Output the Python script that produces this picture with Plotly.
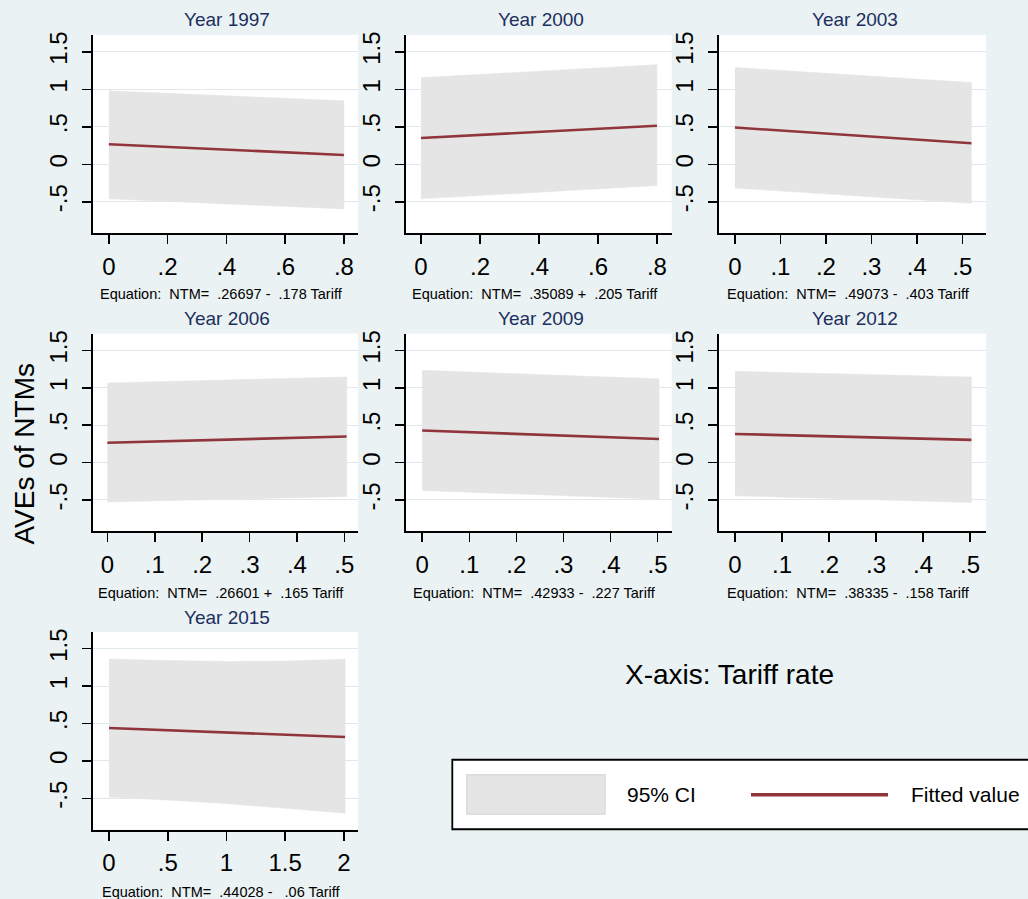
import plotly.graph_objects as go

W, H = 1028, 899

# ---------------- data ----------------
years = ["1997", "2000", "2003", "2006", "2009", "2012", "2015"]

tariff_1997 = [0, 0.4, 0.8]
upper_1997 = [0.979, 0.91, 0.846]
lower_1997 = [-0.46, -0.53, -0.594]
fit_1997 = [0.267, 0.196, 0.125]

tariff_2000 = [0, 0.4, 0.8]
upper_2000 = [1.155, 1.245, 1.328]
lower_2000 = [-0.46, -0.372, -0.283]
fit_2000 = [0.351, 0.433, 0.515]

tariff_2003 = [0, 0.26, 0.52]
upper_2003 = [1.29, 1.19, 1.09]
lower_2003 = [-0.316, -0.42, -0.52]
fit_2003 = [0.491, 0.386, 0.281]

tariff_2006 = [0, 0.25, 0.505]
upper_2006 = [1.065, 1.105, 1.145]
lower_2006 = [-0.528, -0.49, -0.453]
fit_2006 = [0.266, 0.307, 0.349]

tariff_2009 = [0, 0.25, 0.503]
upper_2009 = [1.234, 1.18, 1.12]
lower_2009 = [-0.373, -0.43, -0.489]
fit_2009 = [0.429, 0.373, 0.315]

tariff_2012 = [0, 0.25, 0.503]
upper_2012 = [1.22, 1.182, 1.145]
lower_2012 = [-0.444, -0.49, -0.533]
fit_2012 = [0.383, 0.344, 0.304]

tariff_2015 = [0, 0.4, 1.0, 1.5, 2.01]
upper_2015 = [1.364, 1.345, 1.33, 1.335, 1.36]
lower_2015 = [-0.482, -0.515, -0.57, -0.635, -0.70]
fit_2015 = [0.44, 0.416, 0.38, 0.35, 0.319]

eq_const = [".26697", ".35089", ".49073", ".26601", ".42933", ".38335", ".44028"]
eq_sign = ["-", "+", "-", "+", "-", "-", "-"]
eq_slope = [" .178", " .205", " .403", " .165", " .227", " .158", "  .06"]

xtick_02 = [0, 0.2, 0.4, 0.6, 0.8]
xtick_02_text = ["0", ".2", ".4", ".6", ".8"]
xtick_01 = [0, 0.1, 0.2, 0.3, 0.4, 0.5]
xtick_01_text = ["0", ".1", ".2", ".3", ".4", ".5"]
xtick_05 = [0, 0.5, 1, 1.5, 2]
xtick_05_text = ["0", ".5", "1", "1.5", "2"]
ytick_vals = [-0.5, 0, 0.5, 1, 1.5]
ytick_text = ["-.5", "0", ".5", "1", "1.5"]

panels = [
    (tariff_1997, upper_1997, lower_1997, fit_1997, xtick_02, xtick_02_text, [-0.055, 0.848]),
    (tariff_2000, upper_2000, lower_2000, fit_2000, xtick_02, xtick_02_text, [-0.052, 0.850]),
    (tariff_2003, upper_2003, lower_2003, fit_2003, xtick_01, xtick_01_text, [-0.035, 0.552]),
    (tariff_2006, upper_2006, lower_2006, fit_2006, xtick_01, xtick_01_text, [-0.031, 0.529]),
    (tariff_2009, upper_2009, lower_2009, fit_2009, xtick_01, xtick_01_text, [-0.035, 0.530]),
    (tariff_2012, upper_2012, lower_2012, fit_2012, xtick_01, xtick_01_text, [-0.034, 0.534]),
    (tariff_2015, upper_2015, lower_2015, fit_2015, xtick_05, xtick_05_text, [-0.139, 2.12]),
]

# ---------------- style / layout ----------------
BG = "#eaf2f3"
BAND = "#e5e5e5"
LINE = "#90353b"
TITLE_C = "#1c2f5e"
FONT = "Liberation Sans, Arial, sans-serif"

col_px = [(92.7, 358.0), (405.7, 671.7), (719.0, 986.0)]
row_px = [(32.0, 231.0), (331.7, 530.0), (631.0, 829.3)]
title_y = [17.0, 317.0, 616.5]
eq_y = [291.5, 591.5, 891.5]

def px(x):
    return x / W

def py(y):
    return 1 - y / H

fig = go.Figure()
layout = dict(
    width=W, height=H, autosize=False,
    margin=dict(l=0, r=0, t=0, b=0),
    paper_bgcolor=BG, plot_bgcolor="white",
    showlegend=False,
    font=dict(family=FONT, color="black"),
)
annotations = []

for i, (xs, up, lo, fit, xt, xtt, xr) in enumerate(panels):
    r, c = divmod(i, 3)
    n = i + 1
    xa = "x" if n == 1 else f"x{n}"
    ya = "y" if n == 1 else f"y{n}"

    fig.add_trace(go.Scatter(
        x=list(xs) + list(xs)[::-1], y=list(up) + list(lo)[::-1],
        fill="toself", fillcolor=BAND, mode="lines",
        line=dict(color=BAND, width=0.5), hoverinfo="skip",
        xaxis=xa, yaxis=ya))
    fig.add_trace(go.Scatter(
        x=xs, y=fit, mode="lines", line=dict(color=LINE, width=2.6),
        xaxis=xa, yaxis=ya))

    x0, x1 = col_px[c]
    y0, y1 = row_px[r]
    xkey = "xaxis" if n == 1 else f"xaxis{n}"
    ykey = "yaxis" if n == 1 else f"yaxis{n}"
    layout[xkey] = dict(
        domain=[px(x0), px(x1)], anchor=ya, range=xr,
        tickmode="array", tickvals=xt, ticktext=xtt,
        showline=True, linecolor="black", linewidth=2,
        ticks="outside", ticklen=9, tickwidth=1.5, tickcolor="black",
        showgrid=False, zeroline=False,
        tickfont=dict(size=24, color="black", family=FONT),
        ticklabelstandoff=2,
    )
    layout[ykey] = dict(
        domain=[py(y1), py(y0)], anchor=xa, range=[-0.918, 1.725],
        tickmode="array", tickvals=ytick_vals, ticktext=ytick_text,
        tickangle=-90,
        showline=True, linecolor="black", linewidth=2,
        ticks="outside", ticklen=9, tickwidth=1.5, tickcolor="black",
        showgrid=True, gridcolor="#dfe8ec", gridwidth=1, zeroline=False,
        tickfont=dict(size=24, color="black", family=FONT),
        ticklabelstandoff=5,
    )

    cx = (x0 + x1) / 2
    annotations.append(dict(
        text="Year " + years[i], x=px(cx + 2), y=py(title_y[r]),
        xref="paper", yref="paper", xanchor="center", yanchor="middle",
        showarrow=False, font=dict(size=19, color=TITLE_C, family=FONT)))
    eq = ("Equation:\u00a0 NTM=\u00a0 " + eq_const[i] + " " + eq_sign[i] + "\u00a0"
          + eq_slope[i].replace(" ", "\u00a0") + " Tariff")
    annotations.append(dict(
        text=eq, x=px(cx - 4), y=py(eq_y[r]),
        xref="paper", yref="paper", xanchor="center", yanchor="middle",
        showarrow=False, font=dict(size=14.5, color="black", family=FONT)))

# y-axis title
annotations.append(dict(
    text="AVEs of NTMs", x=px(24), y=py(452), textangle=-90,
    xref="paper", yref="paper", xanchor="center", yanchor="middle",
    showarrow=False, font=dict(size=28, color="black", family=FONT)))
# x-axis note
annotations.append(dict(
    text="X-axis: Tariff rate", x=px(729), y=py(674),
    xref="paper", yref="paper", xanchor="center", yanchor="middle",
    showarrow=False, font=dict(size=28, color="black", family=FONT)))
# legend texts
annotations.append(dict(
    text="95% CI", x=px(625), y=py(794.5),
    xref="paper", yref="paper", xanchor="left", yanchor="middle",
    showarrow=False, font=dict(size=21, color="black", family=FONT)))
annotations.append(dict(
    text="Fitted value", x=px(909), y=py(794.5),
    xref="paper", yref="paper", xanchor="left", yanchor="middle",
    showarrow=False, font=dict(size=21, color="black", family=FONT)))

shapes = [
    dict(type="rect", xref="paper", yref="paper",
         x0=px(452.3), x1=px(1040), y0=py(829), y1=py(759.3),
         fillcolor="white", line=dict(color="black", width=1.8), layer="below"),
    dict(type="rect", xref="paper", yref="paper",
         x0=px(466.7), x1=px(605), y0=py(814), y1=py(774.3),
         fillcolor=BAND, line=dict(color="#dcdcdc", width=1.5)),
    dict(type="line", xref="paper", yref="paper",
         x0=px(751), x1=px(888), y0=py(794.3), y1=py(794.3),
         line=dict(color=LINE, width=3.5)),
]

layout["annotations"] = annotations
layout["shapes"] = shapes
fig.update_layout(**layout)
fig.write_html(
    "out.html",
    config={"displayModeBar": False, "staticPlot": True},
    post_script="document.body.style.margin='0';document.body.style.padding='0';"
                "document.body.style.overflow='hidden';",
)
